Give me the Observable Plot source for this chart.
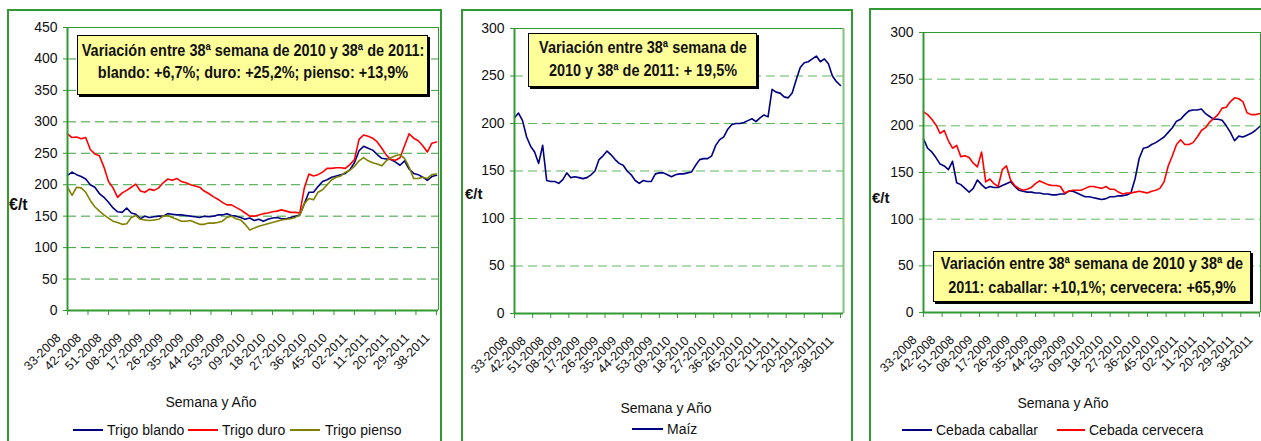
<!DOCTYPE html>
<html><head><meta charset="utf-8">
<script src="https://cdn.jsdelivr.net/npm/d3@7"></script>
<script src="https://cdn.jsdelivr.net/npm/@observablehq/plot@0.6"></script>
<style>
body{margin:0;background:#fff;font-family:"Liberation Sans",Arial,sans-serif;color:#111;}
#root{position:relative;width:1261px;height:441px;overflow:hidden;background:#fff;}
.panel{position:absolute;border:2px solid #339933;box-sizing:border-box;}
.plot{position:absolute;}
.abs{position:absolute;white-space:nowrap;}
.box{position:absolute;background:#ffff99;border:1px solid #000;box-shadow:2px 2px 0 #000;box-sizing:border-box;}
.bline{position:absolute;left:50%;transform:translate(-50%,-50%) scaleX(0.85);font-weight:bold;font-size:17px;white-space:nowrap;color:#111;}
.unit{position:absolute;font-weight:bold;font-size:16px;transform:translateY(-50%);}
.xtitle{position:absolute;font-size:14px;transform:translate(-50%,-50%);white-space:nowrap;}
.lgline{position:absolute;height:0;border-top:2px solid;}
.lgtext{position:absolute;font-size:14px;transform:translateY(-50%);white-space:nowrap;}
</style></head>
<body><div id="root"></div>
<script>
// x categories: week labels every 9 weeks (index of week since 33-2008)
const tickLabels = ["33-2008","42-2008","51-2008","08-2009","17-2009","26-2009","35-2009","44-2009","53-2009","09-2010","18-2010","27-2010","36-2010","45-2010","02-2011","11-2011","20-2011","29-2011","38-2011"];
const tickWeeks = [0,9,18,27,36,45,54,63,72,81,90,99,108,117,126,135,144,153,162];
// sampled every 2 weeks, week index 0..162
const weekIdx = d3.range(0, 163, 2);

const trigoBlando = [215,220,216,213,209,200,196,186,180,172,163,157,156,163,155,153,146,150,148,149,150,150,154,153,152,152,151,150,149,148,150,149,150,152,152,154,151,150,148,145,147,143,145,142,145,147,148,146,146,148,150,152,170,188,188,197,205,208,212,214,216,218,224,235,254,261,258,255,248,242,241,240,236,231,238,225,218,216,212,207,213,215];
const trigoDuro = [281,275,276,273,275,256,249,246,228,205,195,180,187,191,196,201,190,188,193,191,195,203,209,207,210,205,203,200,198,196,190,186,181,177,172,168,168,164,160,155,150,150,152,154,155,157,158,160,158,156,156,155,195,217,214,216,220,226,226,227,227,226,232,240,272,279,277,274,268,258,247,240,239,243,262,281,274,270,262,252,266,268];
const trigoPienso = [196,183,196,195,188,175,165,158,152,147,142,140,137,138,148,151,145,144,143,144,145,150,151,148,145,142,142,143,140,137,137,139,139,140,142,148,150,146,144,137,128,131,134,136,138,140,142,144,145,146,148,152,170,178,176,188,192,200,208,212,214,220,223,229,238,243,238,235,233,230,238,243,246,248,242,228,210,210,212,210,216,217];
const maiz = [206,211,203,186,176,170,158,177,140,139,139,137,141,148,143,144,143,142,143,146,150,162,166,171,167,162,158,156,150,146,140,137,140,139,139,147,148,148,146,144,146,147,147,148,149,156,162,163,163,166,177,183,186,194,199,200,200,201,203,205,202,206,209,207,236,233,232,228,227,232,246,259,264,265,268,271,265,268,263,250,244,240];
const cebadaCaballar = [186,176,172,166,159,157,153,162,139,137,133,129,133,142,137,133,135,134,134,136,138,140,135,131,130,129,129,128,128,127,127,126,126,127,127,130,130,128,126,124,124,123,122,121,122,124,124,125,125,126,128,143,165,176,177,180,182,185,188,193,198,205,207,212,216,217,217,218,213,210,207,207,206,200,193,184,189,188,190,192,195,199];
const cebadaCervecera = [215,212,207,201,192,195,184,176,179,167,168,166,160,156,172,140,143,138,135,153,157,142,136,133,131,132,134,138,141,139,137,136,136,135,128,130,131,131,131,133,135,135,134,133,135,132,132,129,127,128,128,129,130,129,128,130,131,133,140,157,168,180,185,180,180,182,188,195,198,204,208,212,219,220,226,230,229,226,214,212,212,213];

const root = document.getElementById("root");
const axisGreen = "#339933";

function el(cls, style, html) {
  const d = document.createElement("div");
  d.className = cls;
  Object.assign(d.style, style);
  if (html != null) d.innerHTML = html;
  root.appendChild(d);
  return d;
}

function panel(c) {
  const yTicks = d3.range(0, c.yMax + 1, 50);
  const marks = [
    Plot.ruleY(yTicks.filter(t => t > 0 && t < c.yMax), {stroke: c.grid, strokeDasharray: "9,5", strokeWidth: 1}),
    Plot.ruleY([c.yMax], {stroke: axisGreen, strokeWidth: 1}),
    Plot.ruleX([c.xMax], {stroke: c.rightColor, strokeWidth: c.rightWidth}),
    ...c.series.map(s => Plot.line(weekIdx.map((w, i) => ({w, v: s.values[i]})), {x: "w", y: "v", stroke: s.color, strokeWidth: 1.6})),
    Plot.ruleY([0], {stroke: axisGreen, strokeWidth: 2}),
    Plot.ruleX([0], {stroke: axisGreen, strokeWidth: 2}),
    Plot.axisY(yTicks, {tickSize: 4, tickFormat: () => "", stroke: axisGreen, label: null}),
    Plot.axisY(yTicks, {tickSize: 0, tickPadding: 10, fill: "#111", fontSize: 14, label: null}),
    Plot.axisX(tickWeeks, {tickSize: 5, tickFormat: () => "", stroke: axisGreen, label: null}),
    Plot.text(tickWeeks, {x: d => d, frameAnchor: "bottom", text: (d, i) => tickLabels[i], rotate: -45, textAnchor: "end", dx: -6, dy: 28, fontSize: 12.5, fill: "#111"})
  ];
  const svg = Plot.plot({
    width: c.width, height: c.height,
    marginLeft: c.mL, marginRight: c.mR, marginTop: c.mT, marginBottom: c.mB,
    x: {domain: [0, c.xMax], label: null},
    y: {domain: [0, c.yMax], label: null},
    style: {fontFamily: "Liberation Sans, Arial, sans-serif", fontSize: "14px", background: "transparent", overflow: "visible", color: "#111"},
    marks
  });
  svg.classList.add("plot");
  svg.style.position = "absolute";
  svg.style.left = c.left + "px";
  svg.style.top = c.top + "px";
  svg.style.maxWidth = "none";
  root.appendChild(svg);
}

// borders
el("panel", {left: "7px", top: "9px", width: "435px", height: "445px"});
el("panel", {left: "461px", top: "9px", width: "392px", height: "445px"});
el("panel", {left: "869px", top: "8px", width: "400px", height: "445px"});

panel({left: 10, top: 12, width: 432, height: 392, mL: 57, mR: 4, mT: 15, mB: 94, xMax: 162.9, yMax: 450,
  grid: "#3a9f3a", rightColor: axisGreen, rightWidth: 1,
  series: [{values: trigoBlando, color: "#000080"}, {values: trigoDuro, color: "#ff0000"}, {values: trigoPienso, color: "#808000"}]});
panel({left: 465, top: 12, width: 385, height: 392, mL: 49, mR: 7, mT: 16, mB: 91, xMax: 163.5, yMax: 300,
  grid: "#5cb85c", rightColor: "#80c480", rightWidth: 2,
  series: [{values: maiz, color: "#000080"}]});
panel({left: 873, top: 12, width: 388, height: 392, mL: 50, mR: 1, mT: 20, mB: 92, xMax: 162.5, yMax: 300,
  grid: "#5cb85c", rightColor: axisGreen, rightWidth: 1,
  series: [{values: cebadaCaballar, color: "#000080"}, {values: cebadaCervecera, color: "#ff0000"}]});

// annotation boxes
function box(l, t, w, h, lines) {
  const b = el("box", {left: l + "px", top: t + "px", width: w + "px", height: h + "px"});
  lines.forEach(([txt, y]) => {
    const s = document.createElement("div");
    s.className = "bline";
    s.style.top = y + "px";
    s.textContent = txt;
    b.appendChild(s);
  });
}
box(77, 35, 351, 60, [["Variación entre 38ª semana de 2010 y 38ª de 2011:", 15], ["blando: +6,7%; duro: +25,2%; pienso: +13,9%", 37]]);
box(528, 33, 229, 54, [["Variación entre 38ª semana de", 14], ["2010 y 38ª de 2011: + 19,5%", 37]]);
box(933, 251, 318, 51, [["Variación entre 38ª semana de 2010 y 38ª de", 12], ["2011:  caballar: +10,1%; cervecera: +65,9%", 36]]);

// unit labels
el("unit", {left: "9px", top: "205px"}, "€/t");
el("unit", {left: "465px", top: "193px", fontSize: "15px"}, "€/t");
el("unit", {left: "872px", top: "197px", fontSize: "15px"}, "€/t");

// x titles
el("xtitle", {left: "211px", top: "402px"}, "Semana y Año");
el("xtitle", {left: "666px", top: "408px"}, "Semana y Año");
el("xtitle", {left: "1063px", top: "403px"}, "Semana y Año");

// legends
function legend(x1, x2, tx, y, color, label) {
  el("lgline", {left: x1 + "px", width: (x2 - x1) + "px", top: (y - 1) + "px", borderTopColor: color});
  el("lgtext", {left: tx + "px", top: y + "px"}, label);
}
legend(73, 103, 107, 430, "#000080", "Trigo blando");
legend(188, 218, 222, 430, "#ff0000", "Trigo duro");
legend(290, 320, 325, 430, "#808000", "Trigo pienso");
legend(632, 663, 667, 429, "#000080", "Maíz");
legend(902, 932, 936, 430, "#000080", "Cebada caballar");
legend(1057, 1085, 1089, 430, "#ff0000", "Cebada cervecera");
</script></body></html>
